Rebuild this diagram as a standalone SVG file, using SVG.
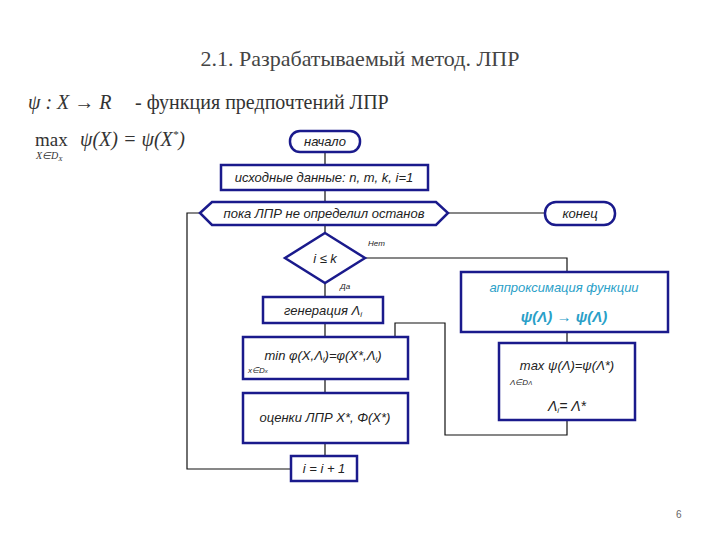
<svg xmlns="http://www.w3.org/2000/svg" width="720" height="540" viewBox="0 0 720 540">
<style>
.b{fill:#fff;stroke:#1a1a8c;stroke-width:2.5}
.t{font-family:"Liberation Sans",sans-serif;font-style:italic;font-size:13px;fill:#222;text-anchor:middle}
.s{font-family:"Liberation Sans",sans-serif;font-style:italic;font-size:8px;fill:#222}
.c{fill:none;stroke:#111;stroke-width:1.2}
.m{font-family:"Liberation Serif",serif;font-size:20px;fill:#333}
</style>
<rect width="720" height="540" fill="#fff"/>
<text x="360" y="66" class="m" text-anchor="middle" style="font-size:22px;fill:#444">2.1. Разрабатываемый метод. ЛПР</text>
<text x="28" y="109" class="m" font-style="italic">ψ : X → R</text>
<text x="135" y="109" class="m">-  функция предпочтений ЛПР</text>
<text x="35" y="146" class="m" style="font-size:19px">max</text>
<text x="36" y="159" class="m" style="font-size:10px;font-style:italic">X∈D<tspan style="font-size:7px" dy="2">X</tspan></text>
<text x="80" y="146" class="m" font-style="italic">ψ(X) = ψ(X<tspan style="font-size:11px" dy="-8">*</tspan><tspan dy="8">)</tspan></text>
<g id="connectors" class="c">
<path d="M325 152V165M325 190V202M325 225V233M325 283V297M325 323V337M325 379V393M325 443V456"/>
<path d="M291 469H187V213H200"/>
<path d="M448 213H545"/>
<path d="M365 258H567V272"/>
<path d="M567 332V343"/>
<path d="M567 420V435H445V323H395V337"/>
</g>
<g id="start"><rect class="b" x="290" y="131" width="70" height="21" rx="10"/><text class="t" x="325" y="146">начало</text></g>
<g id="input"><rect class="b" x="221" y="165" width="207" height="25"/><text class="t" x="324" y="182">исходные данные: n, m, k, i=1</text></g>
<g id="loop"><polygon class="b" points="200,213 212,202 436,202 448,213 436,225 212,225"/><text class="t" x="324" y="218">пока ЛПР не определил останов</text></g>
<g id="end"><rect class="b" x="545" y="202" width="70" height="23" rx="11"/><text class="t" x="580" y="218">конец</text></g>
<g id="cond"><polygon class="b" points="325,233 365,258 325,283 285,258"/><text class="t" x="325" y="263">i ≤ k</text>
<text class="s" x="368" y="246">Нет</text><text class="s" x="340" y="289">Да</text></g>
<g id="gen"><rect class="b" x="263" y="297" width="120" height="26"/><text class="t" x="323" y="315">генерация Λ<tspan style="font-size:8px" dy="2">i</tspan></text></g>
<g id="min"><rect class="b" x="243" y="337" width="165" height="42"/><text class="t" x="323" y="360">min φ(X,Λ<tspan style="font-size:8px" dy="2">i</tspan><tspan dy="-2">)=φ(X*,Λ</tspan><tspan style="font-size:8px" dy="2">i</tspan><tspan dy="-2">)</tspan></text><text class="s" x="248" y="373">x∈D<tspan style="font-size:6px">x</tspan></text></g>
<g id="eval"><rect class="b" x="243" y="393" width="165" height="50"/><text class="t" x="325" y="422">оценки ЛПР X*, Φ(X*)</text></g>
<g id="inc"><rect class="b" x="291" y="456" width="66" height="25"/><text class="t" x="324" y="473">i = i + 1</text></g>
<g id="approx"><rect class="b" x="461" y="272" width="207" height="60"/><text class="t" x="564" y="292" style="fill:#2aa0c8">аппроксимация функции</text><text class="t" x="564" y="322" style="fill:#2aa0c8;font-weight:bold;font-size:15px">ψ(Λ)  → ψ(Λ)</text></g>
<g id="max"><rect class="b" x="499" y="343" width="136" height="77"/><text class="t" x="567" y="370">max ψ(Λ)=ψ(Λ*)</text><text class="s" x="510" y="385">Λ∈D<tspan style="font-size:6px">Λ</tspan></text><text class="t" x="567" y="411" style="font-size:14px">Λ<tspan style="font-size:8px" dy="2">i</tspan><tspan dy="-2">= Λ*</tspan></text></g>
<text x="676" y="518" font-family="Liberation Sans,sans-serif" font-size="10" fill="#666">6</text>
</svg>
